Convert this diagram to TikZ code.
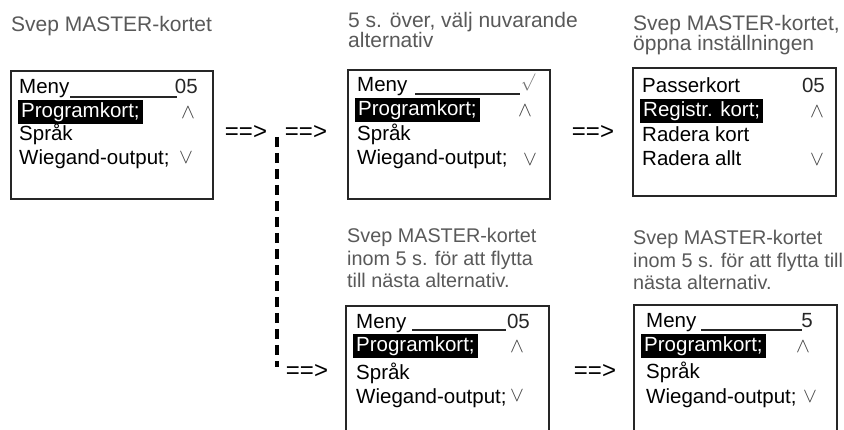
\documentclass[tikz,border=0pt]{standalone}
\usepackage{fontspec}
\setmainfont{Liberation Sans}
\begin{document}
\begin{tikzpicture}[x=1pt,y=-1pt,
  screen/.style={draw=black!85, line width=1.8pt, anchor=north west, inner sep=0pt, minimum width=#1pt},
  row/.style={anchor=base west, inner sep=0pt, font=\fontsize{20.5}{24}\selectfont, text=black},
  hl/.style={row, fill=black, text=white, inner xsep=3pt, inner ysep=2.5pt, text height=15pt, text depth=4pt},
  num/.style={row, anchor=base east, text=black!85},
  sym/.style={anchor=center, inner sep=0pt, font=\fontsize{22}{22}\selectfont, text=black!75},
  chk/.style={anchor=center, inner sep=0pt, font=\fontsize{17}{17}\selectfont, text=black!55},
  caption/.style={anchor=north west, align=left, inner sep=0pt, font=\fontsize{21}{20.5}\selectfont, text=black!65},
  captionb/.style={caption, font=\fontsize{19.8}{22.5}\selectfont},
  arrowtext/.style={anchor=center, inner sep=0pt, font=\fontsize{24}{24}\selectfont, text=black},
  uline/.style={line width=1.1pt, black!85},
  dashline/.style={line width=3.2pt, black, dash pattern=on 10pt off 6pt}
]
\useasboundingbox (0,0) rectangle (844,430);
\fill[white] (0,0) rectangle (844,430);
\clip (0,0) rectangle (844,430);

% captions
\node[caption] (c1) at (11,16) {Svep MASTER-kortet};
\node[caption] (c2) at (348,12) {5 s. över, välj nuvarande\\alternativ};
\node[caption] (c3) at (633,15) {Svep MASTER-kortet,\\öppna inställningen};
\node[captionb] (c4) at (347,228) {Svep MASTER-kortet\\inom 5 s. för att flytta\\till nästa alternativ.};
\node[captionb] (c5) at (633,230) {Svep MASTER-kortet\\inom 5 s. för att flytta till\\nästa alternativ.};

% screens
\node[screen=202, minimum height=128pt] (s1) at (10,70) {};
\node[screen=202, minimum height=129pt] (s2) at (347,69) {};
\node[screen=203, minimum height=128pt] (s3) at (632,67) {};
\node[screen=203, minimum height=160pt] (s4) at (345,305) {};
\node[screen=203, minimum height=160pt] (s5) at (633,304) {};

% screen 1
\node[row] (s1a) at (19,94) {Meny};
\node[hl] (s1b) at (18,118) {Programkort;};
\node[row] (s1c) at (19,141) {Språk};
\node[row] (s1d) at (19,165) {Wiegand-output;};
\node[num] (s1n) at (198,94) {05};
\node[sym] (s1u) at (188,113) {$\wedge$};
\node[sym] (s1v) at (186,158) {$\vee$};
\draw[uline] (70,97) -- (177,97);

% screen 2
\node[row] (s2a) at (357,92) {Meny};
\node[hl] (s2b) at (355,116) {Programkort;};
\node[row] (s2c) at (357,141) {Språk};
\node[row] (s2d) at (357,165) {Wiegand-output;};
\node[chk] (s2k) at (528,82) {$\surd$};
\node[sym] (s2u) at (525,111) {$\wedge$};
\node[sym] (s2v) at (530,160) {$\vee$};
\draw[uline] (415,94) -- (520,94);

% screen 3
\node[row] (s3a) at (642,93) {Passerkort};
\node[hl] (s3b) at (640,117) {Registr. kort;};
\node[row] (s3c) at (642,142) {Radera kort};
\node[row] (s3d) at (642,166) {Radera allt};
\node[num] (s3n) at (825,93) {05};
\node[sym] (s3u) at (817,112) {$\wedge$};
\node[sym] (s3v) at (817,160) {$\vee$};

% screen 4
\node[row] (s4a) at (356,329) {Meny};
\node[hl] (s4b) at (353,352) {Programkort;};
\node[row] (s4c) at (356,380) {Språk};
\node[row] (s4d) at (356,403) {Wiegand-output;};
\node[num] (s4n) at (530,329) {05};
\node[sym] (s4u) at (517,347) {$\wedge$};
\node[sym] (s4v) at (517,396) {$\vee$};
\draw[uline] (412,330) -- (506,330);

% screen 5
\node[row] (s5a) at (646,328) {Meny};
\node[hl] (s5b) at (641,352) {Programkort;};
\node[row] (s5c) at (646,379) {Språk};
\node[row] (s5d) at (646,404) {Wiegand-output;};
\node[num] (s5n) at (813,328) {5};
\node[sym] (s5u) at (803,347) {$\wedge$};
\node[sym] (s5v) at (810,397) {$\vee$};
\draw[uline] (701,330) -- (802,330);

% arrows
\node[arrowtext] (a1) at (246,133) {==>};
\node[arrowtext] (a2) at (306,133) {==>};
\node[arrowtext] (a3) at (593,133) {==>};
\node[arrowtext] (a4) at (307,372) {==>};
\node[arrowtext] (a5) at (595,372) {==>};

\coordinate (dtop) at (277,137);
\coordinate (dbot) at (277,367);
\draw[dashline] (dtop) -- (dbot);
\end{tikzpicture}
\end{document}
